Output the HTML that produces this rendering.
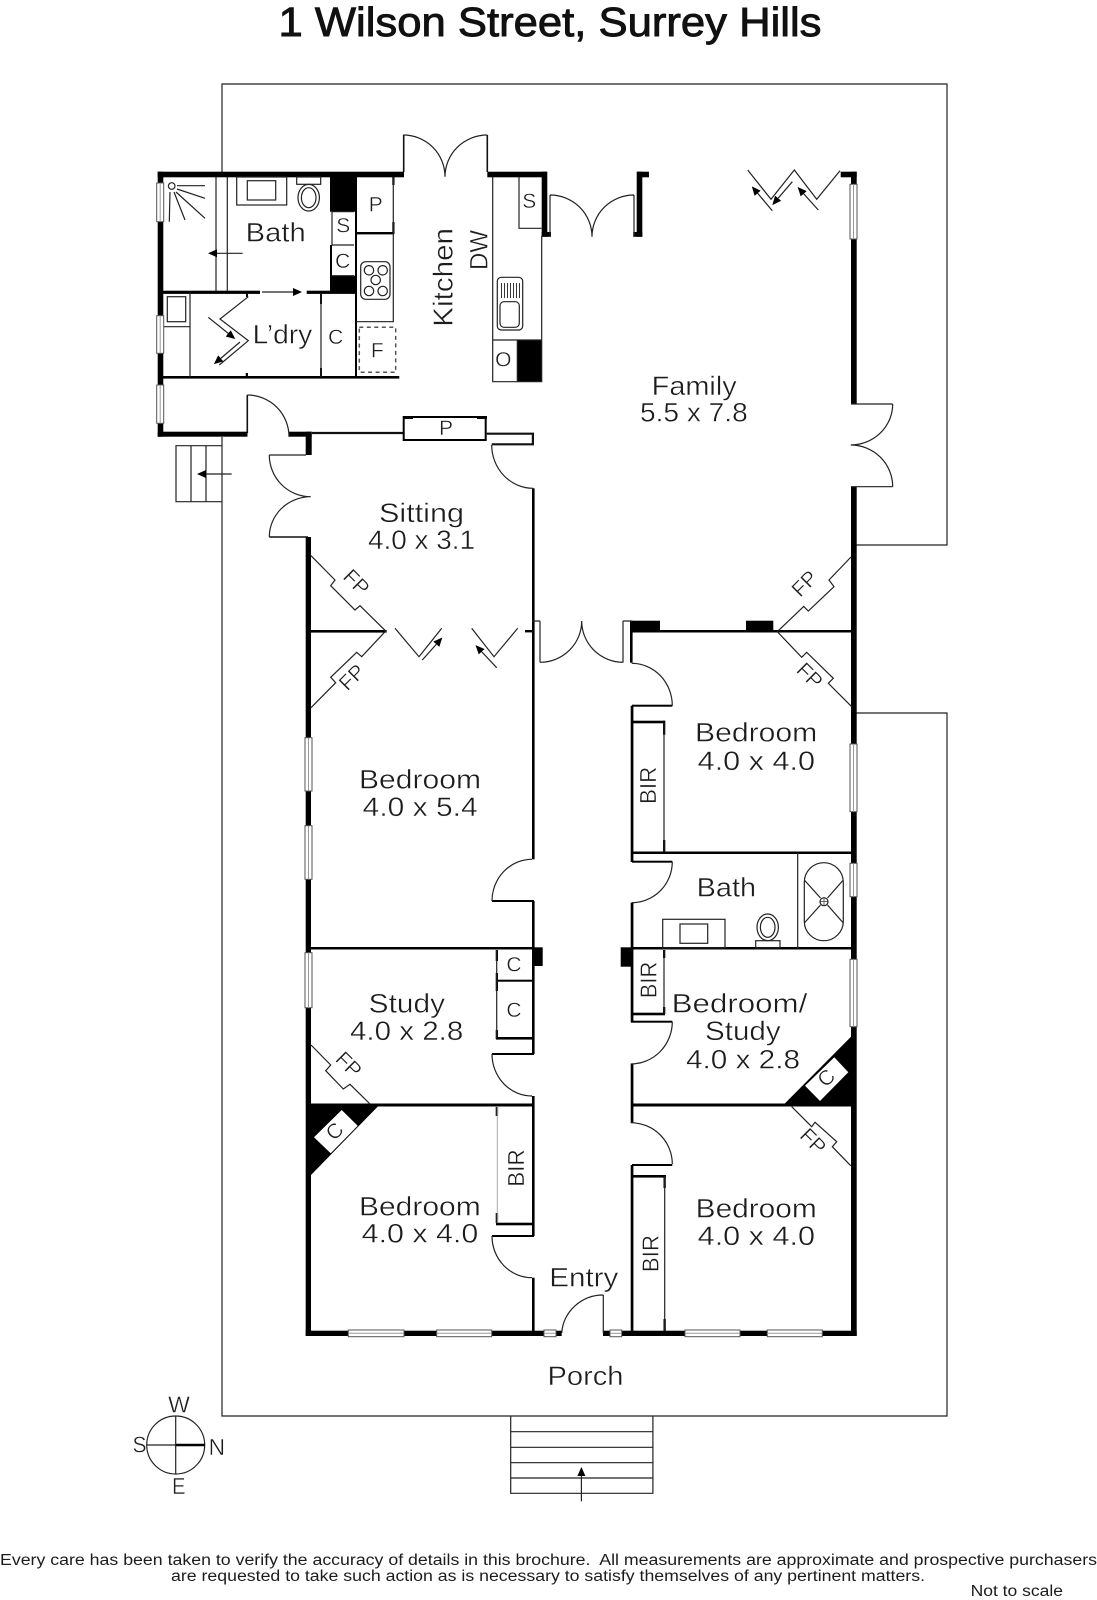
<!DOCTYPE html>
<html><head><meta charset="utf-8"><style>
html,body{margin:0;padding:0;background:#fff}
svg{display:block}
text{font-family:"Liberation Sans",sans-serif;fill:#1c1c1c;stroke:#fff;stroke-width:.4;white-space:pre}
.s{font-size:21px;text-anchor:middle;dominant-baseline:central}
.l{fill:none;stroke:#222;stroke-width:1.2}
.h{fill:none;stroke:#111;stroke-width:2.2}
.w{fill:#fff;stroke:#555;stroke-width:1}
.c{stroke:#999;stroke-width:1}
</style></head><body>
<svg width="1097" height="1600" viewBox="0 0 1097 1600" xmlns="http://www.w3.org/2000/svg">
<defs><marker id="a" markerWidth="10" markerHeight="8" refX="1" refY="4" orient="auto" markerUnits="userSpaceOnUse"><path d="M0 0L9 4L0 8Z" fill="#000"/></marker></defs>

<!-- yard -->
<path class="l" d="M222 173V84H947V545H856M856 713H947V1416H222V437"/>
<!-- back stairs -->
<path class="l" d="M222 445.700H176V501.700H222M191 445.700V501.700M206 445.700V501.700"/>
<path class="l" d="M231.700 474H205" marker-end="url(#a)"/>
<!-- front stairs -->
<path class="l" d="M510.700 1416V1493.300H652.900V1416M510.700 1431.700H652.900M510.700 1447.300H652.900M510.700 1462.700H652.900M510.700 1478H652.900"/>
<path class="l" d="M581.400 1501.300V1475" marker-end="url(#a)"/>

<g fill="#000">
<!-- rear annex walls -->
<rect x="157.700" y="171.700" width="246.300" height="5.600"/>
<rect x="157.700" y="171.700" width="5.600" height="265"/>
<rect x="157.700" y="431.700" width="89.800" height="5"/>
<rect x="289" y="431.700" width="22.700" height="5"/>
<rect x="305.700" y="431.700" width="6" height="23.300"/>
<rect x="163" y="290.700" width="97" height="3.200"/>
<rect x="306.700" y="290.700" width="48.300" height="3.200"/>
<rect x="163" y="376" width="236.300" height="2.600"/>
<rect x="355" y="172" width="2" height="206"/>
<rect x="330" y="177" width="25" height="34.700"/>
<rect x="330" y="245" width="2" height="31"/>
<rect x="330" y="275.700" width="25" height="16.300"/>
<rect x="246" y="293" width="2" height="4"/><rect x="245.700" y="373" width="2.300" height="4"/>
<rect x="320" y="293" width="2" height="11"/><rect x="320" y="368" width="2" height="9"/>
<rect x="392.300" y="177" width="2.200" height="8"/><rect x="392.300" y="222" width="2.200" height="12"/>
<rect x="356" y="232" width="38" height="2.400"/>
<!-- kitchen right top wall -->
<rect x="487.300" y="171.700" width="59.400" height="5.600"/>
<rect x="541.700" y="171.700" width="5.600" height="65"/>
<rect x="541.700" y="232" width="9.300" height="4.800"/>
<!-- family -->
<rect x="637.300" y="171.700" width="11.700" height="5.600"/>
<rect x="636.700" y="171.700" width="5.600" height="65"/>
<rect x="633.300" y="232" width="9" height="4.800"/>
<rect x="840.700" y="171.700" width="16" height="5.600"/>
<rect x="851" y="171.700" width="5.700" height="232.300"/>
<rect x="851" y="486.700" width="5.700" height="849.300"/>
<!-- west wall + south wall -->
<rect x="305.700" y="537" width="5.300" height="799"/>
<rect x="305.700" y="1330.700" width="256" height="5.300"/>
<rect x="603" y="1330.700" width="253.700" height="5.300"/>
<!-- hall walls -->
<rect x="532" y="488.300" width="2.600" height="371"/>
<rect x="532" y="901" width="2.600" height="153"/>
<rect x="532" y="1096" width="2.600" height="140"/>
<rect x="532" y="1277.700" width="2.600" height="55"/>
<rect x="525" y="630" width="8" height="2.400"/>
<rect x="630" y="620.700" width="2.600" height="42"/>
<rect x="630.700" y="705.700" width="2.700" height="156.300"/>
<rect x="630.700" y="902.700" width="2.700" height="46"/>
<rect x="630.700" y="948" width="2.700" height="74"/>
<rect x="630.700" y="1064" width="2.700" height="58.700"/>
<rect x="630.700" y="1165" width="2.700" height="168"/>
<!-- room dividers -->
<rect x="311" y="630" width="75.700" height="2.600"/>
<rect x="630" y="630" width="222" height="2.500"/>
<rect x="631" y="851.500" width="221" height="2.500"/>
<rect x="631" y="947" width="221" height="2.500"/>
<rect x="311" y="947" width="223" height="2.500"/>
<rect x="311" y="1103.500" width="223" height="3"/>
<rect x="631" y="1103.500" width="221" height="3"/>
<!-- blocks -->
<rect x="630" y="620.700" width="30" height="10"/>
<rect x="746" y="620.700" width="27.300" height="10"/>
<rect x="532.700" y="947.300" width="10" height="18.700"/>
<rect x="620.700" y="947.300" width="11" height="19.400"/>
<rect x="517.300" y="340" width="24.400" height="41.700"/>
<path d="M306 1105H379.300L311 1175H306Z"/>
<path d="M851 1036.700L783.300 1105H855.700V1032Z"/>
<!-- closet thick -->
<rect x="495.700" y="950" width="2.300" height="11"/><rect x="495.700" y="973" width="2.300" height="18"/><rect x="495.700" y="1030" width="2.300" height="9"/>
<rect x="496" y="979.700" width="37" height="2"/>
<rect x="496" y="1037" width="37" height="2.600"/>
<rect x="495.700" y="1107" width="2.400" height="9"/><rect x="495.700" y="1213" width="2.400" height="10"/>
<rect x="496" y="1222.700" width="37" height="2.600"/>
<rect x="632" y="720.700" width="33" height="2.600"/>
<rect x="663" y="720.700" width="2.300" height="14"/><rect x="663" y="840" width="2.300" height="12"/>
<rect x="632" y="1012.700" width="33" height="2.600"/>
<rect x="663" y="950" width="2.300" height="8"/><rect x="663" y="1007" width="2.300" height="7"/>
<rect x="632" y="1175" width="34" height="2.600"/>
<rect x="663.500" y="1176" width="2.300" height="12"/><rect x="663.500" y="1319" width="2.300" height="12"/>
<rect x="631" y="1020.700" width="41.300" height="2"/>
<rect x="632" y="704.700" width="40.300" height="2"/>
<rect x="632" y="860.700" width="40.300" height="2"/>
<rect x="632" y="1164" width="40.300" height="2"/>
<rect x="492" y="1053" width="42" height="2"/>
<rect x="492" y="900" width="42" height="2"/>
<rect x="492" y="1235" width="42" height="2"/>
</g>

<!-- diamonds -->
<path fill="#fff" d="M341.700 1110L357.700 1125.700L330.700 1153.300L314 1137.300Z"/>
<path fill="#fff" d="M834.300 1057.300L848.300 1072.300L820 1101L805 1085.700Z"/>

<!-- thin wall lines -->
<path class="h" d="M312 433H403M486.700 433.700H532.900V444.300H491.700"/>
<rect x="403.700" y="417" width="82" height="23" fill="#fff" stroke="#000" stroke-width="2"/>
<rect x="403" y="416" width="10" height="3" fill="#000"/><rect x="477" y="416" width="10" height="3" fill="#000"/>
<path class="l" d="M269.300 455H306"/>
<path class="h" d="M269.300 537H308M247.300 395V433M403.700 135V172M487.300 135V172" style="stroke-width:1.6"/>

<!-- door arcs -->
<path class="l" d="M403.300 135A41.700 41.700 0 0 1 445 176.700M487.300 135A42.300 41.700 0 0 0 445 176.700
M247.300 395A41.700 41.700 0 0 1 289 436.700
M269.300 455A41.400 41.700 0 0 0 310.700 496.700M310.700 496.700A41.400 40.300 0 0 0 269.300 537
M491.700 445A41.600 43.300 0 0 0 533.300 488.300
M550 195A42 41.700 0 0 1 592 236.700M634 195A42 41.700 0 0 0 592 236.700M550 195V236.700M634 195V236.700
M892.700 404A42 41 0 0 1 850.700 445M850.700 445A42 41.700 0 0 1 892.700 486.700M851 404H892.700M851 486.700H892.700
M540 662.300A41.700 41.300 0 0 0 581.700 621M623.300 662.300A41.600 41.300 0 0 1 581.700 621M540 621V662.300M532 621H540M623 621V662.300M623 621H632
M631.700 663.300A40.600 42.400 0 0 1 672.300 705.700
M672.300 861.700A40.600 41 0 0 1 631.700 902.700
M672.300 1021.700A41.600 42.300 0 0 1 630.700 1064
M630.700 1122.700A41.600 41.300 0 0 1 672.300 1164
M532 859.300A40 41.700 0 0 0 492 901
M492 1054A40 42 0 0 0 532 1096
M492 1236A40 41.700 0 0 0 532 1277.700
M603.300 1295A41.600 41 0 0 0 561.700 1333M603.300 1295V1333"/>

<!-- Bath fit-out -->
<path class="l" d="M216 177V291M227.300 177V291"/>
<rect class="l" x="236.700" y="177" width="50" height="28"/>
<rect class="l" x="247.300" y="180.700" width="28.400" height="19.300"/>
<rect class="l" x="296.700" y="177" width="24" height="7.300"/>
<ellipse class="l" cx="308.700" cy="197.700" rx="10.700" ry="13.300"/><ellipse class="l" cx="308.700" cy="197.700" rx="7.300" ry="10"/>
<circle class="l" cx="171.700" cy="186" r="3.300"/>
<path class="l" d="M177 185.700H205M177 189L205 198.300M176 192L205 218.300M174 192L185 220M170 192L169.300 221.700"/>
<path class="l" d="M242.700 253.300H216" marker-end="url(#a)"/>
<path class="l" d="M262 292H294" marker-end="url(#a)"/>
<!-- S / C boxes in bath -->
<path class="l" d="M332 211.700H354M332 245H354M332 275.700H354"/>
<path class="l" d="M332 211.700V245"/>
<!-- Kitchen left -->
<path class="l" d="M393.300 177V321.700H356"/>
<rect class="l" x="360.700" y="261.700" width="29.300" height="37.600" rx="5"/>
<g class="l"><circle cx="369" cy="270.300" r="4.700"/><circle cx="382.700" cy="270.300" r="4.700"/><circle cx="375.700" cy="280" r="4.700"/><circle cx="369" cy="291" r="4.700"/><circle cx="382.700" cy="291" r="4.700"/></g>
<rect x="359.300" y="327.300" width="36.400" height="45" fill="none" stroke="#555" stroke-width="1.500" stroke-dasharray="4 3.500"/>
<!-- laundry -->
<path class="l" d="M190 293V377M163 326.700H190M321 293V377"/>
<rect class="l" x="167.300" y="296.700" width="18.400" height="25"/>
<path class="l" d="M248.300 296.700L220 319L248.300 340.700L219.300 365"/>
<path class="l" d="M208.300 317.300L229 334" marker-end="url(#a)"/>
<path class="l" d="M240 342L220 359" marker-end="url(#a)"/>
<!-- Kitchen right -->
<path class="l" d="M492.700 177V381.700H541.700V236M492.700 340H541.700M517.300 340V381.700M519 177V228.300H541.700"/>
<rect class="l" x="497.300" y="277.300" width="25.400" height="52.700" rx="4"/>
<rect class="l" x="500" y="301.700" width="19.300" height="25.600" rx="4"/>
<path class="l" style="stroke-width:.9" d="M501.500 283V298M504.500 283V298M507.500 283V298M510.500 283V298M513.500 283V298M516.500 283V298M519.500 283V298"/>
<!-- bifold top right -->
<path class="l" d="M747.700 170L771 199.300L794.300 170L816.700 199.300L840 170.700"/>
<path class="l" d="M772.300 210.700L757 192.500" marker-end="url(#a)"/>
<path class="l" d="M792.300 181.700L777.500 199" marker-end="url(#a)"/>
<path class="l" d="M818.300 210L803 193" marker-end="url(#a)"/>
<!-- bifold sitting -->
<path class="l" d="M395 628.300L419 656.700L441.700 628.300"/>
<path class="l" d="M422.300 660L437 643.500" marker-end="url(#a)"/>
<path class="l" d="M471.700 628.300L494 656.700L517.700 628.300"/>
<path class="l" d="M496.700 667.700L481 651" marker-end="url(#a)"/>
<!-- FP outlines -->
<path class="l" d="M311 555.700L335 580L330.700 585.700L355 610L360 605.700L385.700 631L361.700 656.700L356.700 652.300L330.700 677.300L335.700 682.700L311 707.700"/>
<path class="l" d="M851 557L829 580L834 586.700L808.300 611L803.700 606.500L777.300 631.700L801.700 657.300L806.700 652.300L833.300 678.300L828.300 683.300L851.700 706.700"/>
<path class="l" d="M311 1045L330.700 1065L325.700 1070.700L343.300 1089L350 1084.300L370 1104"/>
<path class="l" d="M791.700 1106.700L811.700 1126.700L815 1122.300L836.700 1141.700L832.300 1146.700L850.700 1165.700"/>
<!-- closets thin -->
<path class="l" d="M496.700 950V1038"/>
<path stroke="#aaa" stroke-width="1" d="M497.300 1107V1223"/>
<path class="l" d="M664 723V852M664 950V1014M664.700 1176V1331"/>
<!-- bath E -->
<path class="l" d="M797.700 853V948"/>
<rect class="l" x="662.700" y="919.300" width="62.300" height="28.700"/>
<rect class="l" x="680" y="924" width="27.700" height="19.300"/>
<ellipse class="l" cx="767.700" cy="927.300" rx="10.700" ry="13.300"/><ellipse class="l" cx="767.700" cy="927.300" rx="7.300" ry="10"/>
<rect class="l" x="755.700" y="940.700" width="24.300" height="7.300"/>
<rect class="l" x="804.300" y="862.700" width="39" height="78" rx="19.500"/>
<path class="l" d="M804.300 880L820.500 898M843.300 880L827.500 898M804.300 923L820.500 905M843.300 923L827.500 905"/>
<circle class="l" cx="824" cy="901.700" r="4"/><path class="l" style="stroke-width:.7" d="M820 901.700H828M824 897.700V905.700"/>

<!-- windows -->
<g>
<rect class="w" x="156.700" y="183" width="7" height="38.700"/><path class="c" d="M160.200 183V221.700"/>
<rect class="w" x="156.700" y="315.700" width="7" height="37.600"/><path class="c" d="M160.200 315.700V353.300"/>
<rect class="w" x="156.700" y="385" width="7" height="38.300"/><path class="c" d="M160.200 385V423.300"/>
<rect class="w" x="850" y="184.300" width="7" height="54.700"/><path class="c" d="M853.500 184.300V239"/>
<rect class="w" x="850" y="744" width="7" height="67.700"/><path class="c" d="M853.500 744V811.700"/>
<rect class="w" x="850" y="863.300" width="7" height="33.400"/><path class="c" d="M853.500 863.300V896.700"/>
<rect class="w" x="850" y="959.300" width="7" height="67.400"/><path class="c" d="M853.500 959.300V1026.700"/>
<rect class="w" x="305" y="737.700" width="7" height="53.300"/><path class="c" d="M308.500 737.700V791"/>
<rect class="w" x="305" y="825.700" width="7" height="53.600"/><path class="c" d="M308.500 825.700V879.300"/>
<rect class="w" x="305" y="952.700" width="7" height="55"/><path class="c" d="M308.500 952.700V1007.700"/>
<rect class="w" x="348.300" y="1330" width="55.700" height="6.700"/><path class="c" d="M348.300 1333.300H404"/>
<rect class="w" x="436.700" y="1330" width="55" height="6.700"/><path class="c" d="M436.700 1333.300H491.700"/>
<rect class="w" x="544" y="1330" width="12" height="6.700"/><path class="c" d="M544 1333.300H556"/>
<rect class="w" x="610" y="1330" width="11.700" height="6.700"/><path class="c" d="M610 1333.300H621.700"/>
<rect class="w" x="685" y="1330" width="55" height="6.700"/><path class="c" d="M685 1333.300H740"/>
<rect class="w" x="767.300" y="1330" width="55" height="6.700"/><path class="c" d="M767.300 1333.300H822.300"/>
</g>

<!-- compass -->
<circle class="l" cx="175.700" cy="1445" r="29"/>
<path class="l" d="M175.700 1416V1474M146.700 1445H175.700"/>
<path stroke="#000" stroke-width="2.400" d="M175.700 1445H204.700"/>

<!-- title -->
<text x="278.500" y="36" font-size="41" textLength="543" lengthAdjust="spacingAndGlyphs" style="stroke:#111;stroke-width:.9;fill:#111">1 Wilson Street, Surrey Hills</text>

<!-- room labels -->
<g font-size="27">
<text x="245.700" y="241.700" textLength="60" lengthAdjust="spacingAndGlyphs">Bath</text>
<text x="252.700" y="343.300" textLength="59.600" lengthAdjust="spacingAndGlyphs">L’dry</text>
<text x="651.700" y="395" textLength="85" lengthAdjust="spacingAndGlyphs">Family</text>
<text x="640" y="421.700" textLength="107.700" lengthAdjust="spacingAndGlyphs">5.5 x 7.8</text>
<text x="379" y="522" textLength="85" lengthAdjust="spacingAndGlyphs">Sitting</text>
<text x="368" y="549" textLength="107" lengthAdjust="spacingAndGlyphs">4.0 x 3.1</text>
<text x="359" y="788.300" textLength="122" lengthAdjust="spacingAndGlyphs">Bedroom</text>
<text x="362.700" y="816" textLength="115" lengthAdjust="spacingAndGlyphs">4.0 x 5.4</text>
<text x="695" y="741.700" textLength="122.300" lengthAdjust="spacingAndGlyphs">Bedroom</text>
<text x="697.700" y="770" textLength="117.300" lengthAdjust="spacingAndGlyphs">4.0 x 4.0</text>
<text x="696.700" y="896.700" textLength="59.300" lengthAdjust="spacingAndGlyphs">Bath</text>
<text x="368.700" y="1012.700" textLength="76.300" lengthAdjust="spacingAndGlyphs">Study</text>
<text x="350" y="1040" textLength="113.300" lengthAdjust="spacingAndGlyphs">4.0 x 2.8</text>
<text x="671.700" y="1012.700" textLength="135.600" lengthAdjust="spacingAndGlyphs">Bedroom/</text>
<text x="705" y="1040" textLength="75.700" lengthAdjust="spacingAndGlyphs">Study</text>
<text x="686" y="1068.300" textLength="114" lengthAdjust="spacingAndGlyphs">4.0 x 2.8</text>
<text x="359" y="1215.700" textLength="121.700" lengthAdjust="spacingAndGlyphs">Bedroom</text>
<text x="361.700" y="1242.700" textLength="116.600" lengthAdjust="spacingAndGlyphs">4.0 x 4.0</text>
<text x="695.700" y="1217.700" textLength="121" lengthAdjust="spacingAndGlyphs">Bedroom</text>
<text x="697.700" y="1245" textLength="117.300" lengthAdjust="spacingAndGlyphs">4.0 x 4.0</text>
<text x="549.300" y="1286.700" textLength="69" lengthAdjust="spacingAndGlyphs">Entry</text>
<text x="547.500" y="1385" textLength="76" lengthAdjust="spacingAndGlyphs">Porch</text>
</g>
<text transform="translate(452.700 326.700) rotate(-90)" font-size="28" textLength="98.700" lengthAdjust="spacingAndGlyphs">Kitchen</text>
<text transform="translate(487.300 270) rotate(-90)" font-size="25" textLength="40" lengthAdjust="spacingAndGlyphs">DW</text>
<g font-size="23">
<text transform="translate(656 804) rotate(-90)" textLength="37.300" lengthAdjust="spacingAndGlyphs">BIR</text>
<text transform="translate(656.700 998.300) rotate(-90)" textLength="36.600" lengthAdjust="spacingAndGlyphs">BIR</text>
<text transform="translate(658.300 1272.300) rotate(-90)" textLength="37.300" lengthAdjust="spacingAndGlyphs">BIR</text>
<text transform="translate(524 1186.700) rotate(-90)" textLength="37.400" lengthAdjust="spacingAndGlyphs">BIR</text>
</g>
<!-- single letters -->
<text class="s" x="375.700" y="205">P</text>
<text class="s" x="343.300" y="226">S</text>
<text class="s" x="342.700" y="261.700">C</text>
<text class="s" x="335.700" y="337.300">C</text>
<text class="s" x="377.300" y="351">F</text>
<text class="s" x="529.300" y="201.700">S</text>
<text class="s" x="503.300" y="360">O</text>
<text class="s" x="446" y="428.300">P</text>
<text class="s" x="514" y="965">C</text>
<text class="s" x="514" y="1010.700">C</text>
<text class="s" transform="rotate(-45 335 1131.700)" x="335" y="1131.700">C</text>
<text class="s" transform="rotate(-45 826.700 1078.300)" x="826.700" y="1078.300">C</text>
<!-- FP labels -->
<text class="s" transform="rotate(45 356 582.700)" x="356" y="582.700">FP</text>
<text class="s" transform="rotate(-45 352.300 677.700)" x="352.300" y="677.700">FP</text>
<text class="s" transform="rotate(-45 805 584)" x="805" y="584">FP</text>
<text class="s" transform="rotate(45 809.300 676)" x="809.300" y="676">FP</text>
<text class="s" transform="rotate(45 348.300 1065)" x="348.300" y="1065">FP</text>
<text class="s" transform="rotate(45 812.700 1141.700)" x="812.700" y="1141.700">FP</text>
<!-- compass labels -->
<g font-size="23">
<text x="179" y="1412.700" text-anchor="middle">W</text>
<text x="132.500" y="1452.700" textLength="14" lengthAdjust="spacingAndGlyphs">S</text>
<text x="208.600" y="1455" textLength="16.500" lengthAdjust="spacingAndGlyphs">N</text>
<text x="172" y="1494" textLength="13.500" lengthAdjust="spacingAndGlyphs">E</text>
</g>
<!-- footer -->
<g font-size="15.500" style="stroke:none">
<text x="0" y="1565" textLength="1097" lengthAdjust="spacingAndGlyphs" style="stroke:none">Every care has been taken to verify the accuracy of details in this brochure.  All measurements are approximate and prospective purchasers</text>
<text x="171" y="1581" textLength="754" lengthAdjust="spacingAndGlyphs" style="stroke:none">are requested to take such action as is necessary to satisfy themselves of any pertinent matters.</text>
<text x="970.600" y="1596" textLength="92.400" lengthAdjust="spacingAndGlyphs" style="stroke:none">Not to scale</text>
</g>
</svg>
</body></html>
